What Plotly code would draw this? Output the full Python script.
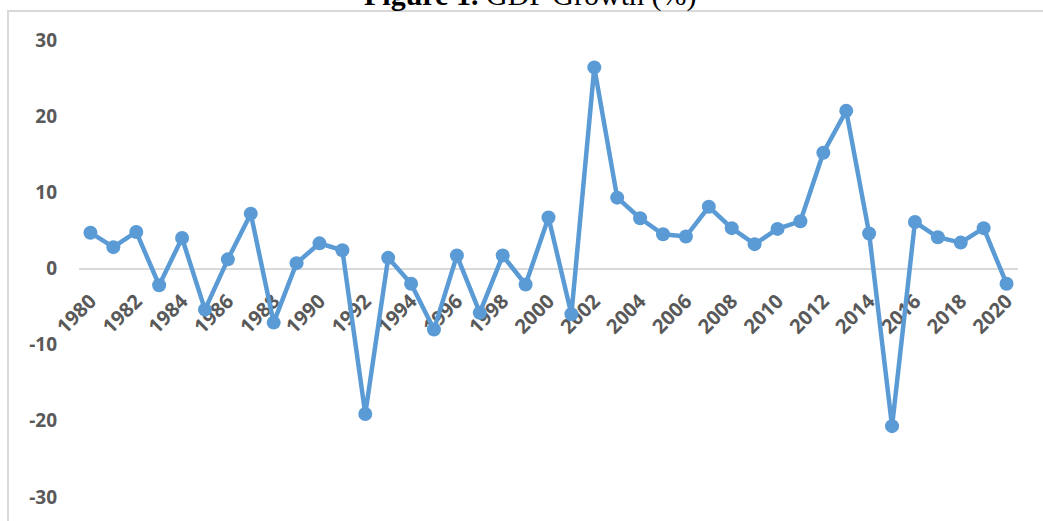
import plotly.graph_objects as go

# Annual GDP growth, percent
years = list(range(1980, 2021))
gdp_growth = [
    4.7, 2.8, 4.8, -2.2, 4.0, -5.4, 1.2, 7.2, -7.1, 0.7,
    3.3, 2.4, -19.1, 1.4, -2.0, -8.0, 1.7, -5.8, 1.7, -2.1,
    6.7, -6.0, 26.4, 9.3, 6.6, 4.5, 4.2, 8.1, 5.3, 3.2,
    5.2, 6.2, 15.2, 20.7, 4.6, -20.7, 6.1, 4.1, 3.4, 5.3,
    -2.0,
]
x_tick_years = list(range(1980, 2021, 2))
y_ticks = [-30, -20, -10, 0, 10, 20, 30]

LINE_BLUE = "#5B9BD5"
LABEL_GREY = "#595959"
BORDER_GREY = "#D9D9D9"

fig = go.Figure()
fig.add_trace(go.Scatter(
    x=years, y=gdp_growth, mode="lines+markers",
    line=dict(color=LINE_BLUE, width=4.5),
    marker=dict(color=LINE_BLUE, size=14),
    showlegend=False, hoverinfo="x+y",
))

W, H = 1043, 521
ml, mr, mt, mb = 79, 25, 40, 24
pw, ph = W - ml - mr, H - mt - mb

def px_x(p):
    return (p - ml) / pw

def px_y(p):
    return (H - mb - p) / ph

y_font = dict(family="Open Sans, sans-serif", size=19, color=LABEL_GREY, weight=700)
x_font = dict(family="Open Sans, sans-serif", size=20, color=LABEL_GREY, weight=700)

fig.update_layout(
    width=W, height=H,
    margin=dict(l=ml, r=mr, t=mt, b=mb),
    paper_bgcolor="white", plot_bgcolor="white",
    xaxis=dict(
        range=[1979.5, 2020.5],
        tickvals=x_tick_years, ticktext=[str(y) for y in x_tick_years],
        tickangle=-45, tickfont=x_font,
        anchor="free", position=0.5,
        showline=True, linecolor=BORDER_GREY, linewidth=2,
        showgrid=False, zeroline=False, ticks="",
        layer="below traces",
        ticklabelstandoff=12,
    ),
    yaxis=dict(
        range=[-30, 30], tickvals=y_ticks,
        ticktext=[str(v) for v in y_ticks],
        tickfont=y_font, showgrid=False, zeroline=False,
        showline=False, ticks="", ticklabelstandoff=21,
    ),
    shapes=[
        # chart frame
        dict(type="rect", xref="paper", yref="paper",
             x0=px_x(8), x1=px_x(1100), y0=px_y(600), y1=px_y(11),
             line=dict(color=BORDER_GREY, width=2), layer="below"),
    ],
    annotations=[
        dict(xref="paper", yref="paper", x=px_x(530), y=px_y(14),
             xanchor="center", yanchor="bottom", showarrow=False,
             text="<b>Figure 1.</b> GDP Growth (%)",
             font=dict(family="Liberation Serif, serif", size=30, color="black")),
    ],
)

fig.write_html("out.html")
